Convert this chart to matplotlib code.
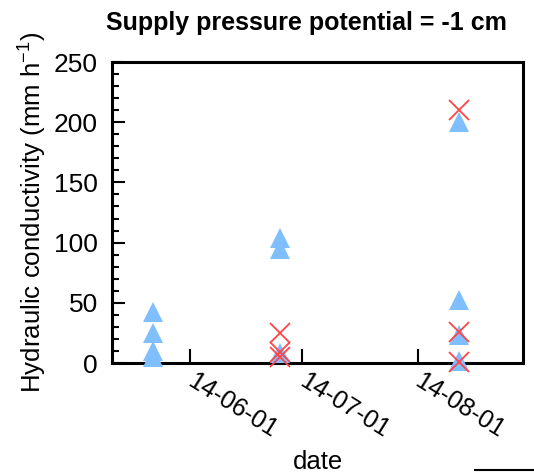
import matplotlib
matplotlib.use("Agg")
import matplotlib.pyplot as plt
import matplotlib.dates as mdates
import matplotlib.transforms as mtransforms
from matplotlib.lines import Line2D
import numpy as np
import datetime as dt

plt.rcParams['font.family'] = ['Liberation Sans', 'DejaVu Sans']

# Sampling dates and measured conductivities
tri_dates = ["2014-05-22"] * 4 + ["2014-06-25"] * 3 + ["2014-08-12"] * 4
tri_values = [42, 25, 10, 5, 104, 95, 8, 200, 52, 23, 2]

cross_dates = ["2014-06-25"] * 3 + ["2014-08-12"] * 3
cross_values = [25, 9, 5, 210, 26, 1]

tick_dates = ["2014-06-01", "2014-07-01", "2014-08-01"]

def to_dt(lst):
    return [dt.datetime.strptime(s, "%Y-%m-%d") for s in lst]

fig = plt.figure(figsize=(5.34, 4.73), dpi=100)
ax = fig.add_axes([112/534, 1 - 363/473, (523-112)/534, (363-62)/473])

ax.plot(to_dt(tri_dates), tri_values, linestyle='none', marker='^',
        markersize=14, color='#80BFFF', markeredgewidth=0, clip_on=False, zorder=3)
ax.plot(to_dt(cross_dates), cross_values, linestyle='none', marker='x',
        markersize=14, color='#FF4545', markeredgewidth=1.3, clip_on=False, zorder=4)

ax.set_xlim(dt.datetime(2014, 5, 11), dt.datetime(2014, 8, 29, 6))
ax.set_ylim(0, 250)

ax.set_xticks(to_dt(tick_dates))
ax.xaxis.set_major_formatter(mdates.DateFormatter("%y-%m-%d"))
ax.set_yticks(np.arange(0, 251, 50))
ax.set_yticks(np.arange(0, 251, 10), minor=True)

for s in ax.spines.values():
    s.set_linewidth(2.2)

ax.tick_params(axis='y', which='major', direction='in', length=9, width=1.5,
               labelsize=19, pad=10, right=False)
ax.tick_params(axis='y', which='minor', direction='in', length=5, width=1.5, right=False)
ax.tick_params(axis='x', which='major', direction='in', length=10, width=1.5,
               labelsize=18, pad=4, top=False)
ax.tick_params(axis='x', which='minor', bottom=False, top=False)

shift = mtransforms.ScaledTranslation(6/100, 0, fig.dpi_scale_trans)
for lbl in ax.get_xticklabels():
    lbl.set_rotation(-32)
    lbl.set_ha('left')
    lbl.set_va('top')
    lbl.set_rotation_mode('anchor')
    lbl.set_transform(lbl.get_transform() + shift)

ax.set_xlabel("date", fontsize=18.5, labelpad=6)
ax.set_ylabel("Hydraulic conductivity (mm h$\\mathregular{^{-1}}$)", fontsize=18.6, labelpad=4)

fig.text(306/534, 1 - 23/473, "Supply pressure potential = -1 cm",
         fontsize=18, fontweight='bold', ha='center', va='center')

fig.add_artist(Line2D([475/534, 1.0], [1 - 470/473, 1 - 470/473],
                      transform=fig.transFigure, color='black', linewidth=1.5))

fig.savefig("out.png", dpi=100)
